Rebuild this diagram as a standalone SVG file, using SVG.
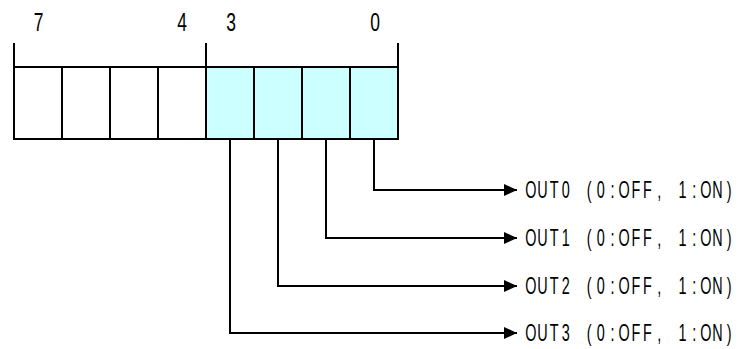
<svg xmlns="http://www.w3.org/2000/svg" width="740" height="349" viewBox="0 0 740 349">
<style>
.ln{stroke:#000;stroke-width:2;fill:none}
.cell{stroke:#000;stroke-width:2;fill:#fff}
.on{fill:#CCFFFF}
.num{font-family:"Liberation Sans","Noto Sans CJK JP",sans-serif;font-size:25px;fill:#000;text-anchor:middle}
.lbl{font-family:"Liberation Sans","Noto Sans CJK JP",sans-serif;font-size:24px;fill:#000;text-anchor:middle}
</style>
<defs>
<marker id="ah" markerUnits="userSpaceOnUse" markerWidth="14" markerHeight="13" refX="13" refY="6.5" orient="auto">
<path d="M0,0.5 L13,6.5 L0,12.5 Z" fill="#000"/>
</marker>
</defs>
<rect width="740" height="349" fill="#fff"/>
<g id="register">
<rect class="cell" x="14" y="67" width="48" height="72"/>
<rect class="cell" x="62" y="67" width="48" height="72"/>
<rect class="cell" x="110" y="67" width="48" height="72"/>
<rect class="cell" x="158" y="67" width="48" height="72"/>
<rect class="cell on" x="206" y="67" width="48" height="72"/>
<rect class="cell on" x="254" y="67" width="48" height="72"/>
<rect class="cell on" x="302" y="67" width="48" height="72"/>
<rect class="cell on" x="350" y="67" width="48" height="72"/>
<path class="ln" d="M14 43 V67 M206 43 V67 M398 43 V67"/>
<text class="num" transform="translate(38.5,31) scale(0.7,1)">7</text>
<text class="num" transform="translate(182,31) scale(0.7,1)">4</text>
<text class="num" transform="translate(231,31) scale(0.7,1)">3</text>
<text class="num" transform="translate(375,31) scale(0.7,1)">0</text>
</g>
<g id="connectors">
<path class="ln" d="M374 139 V190 H517" marker-end="url(#ah)"/>
<path class="ln" d="M326 139 V238 H517" marker-end="url(#ah)"/>
<path class="ln" d="M278 139 V286 H517" marker-end="url(#ah)"/>
<path class="ln" d="M230 139 V333 H517" marker-end="url(#ah)"/>
</g>
<g id="out0"><text class="lbl" transform="translate(525,198) scale(0.6,1)" x="9.72 29.17 48.61 68.06 87.5 106.94 126.39 145.83 165.28 184.72 204.17 223.61 243.06 262.5 281.94 301.39 320.83 340.28">OUT0 (0:OFF, 1:ON)</text></g>
<g id="out1"><text class="lbl" transform="translate(525,246) scale(0.6,1)" x="9.72 29.17 48.61 68.06 87.5 106.94 126.39 145.83 165.28 184.72 204.17 223.61 243.06 262.5 281.94 301.39 320.83 340.28">OUT1 (0:OFF, 1:ON)</text></g>
<g id="out2"><text class="lbl" transform="translate(525,294) scale(0.6,1)" x="9.72 29.17 48.61 68.06 87.5 106.94 126.39 145.83 165.28 184.72 204.17 223.61 243.06 262.5 281.94 301.39 320.83 340.28">OUT2 (0:OFF, 1:ON)</text></g>
<g id="out3"><text class="lbl" transform="translate(525,341) scale(0.6,1)" x="9.72 29.17 48.61 68.06 87.5 106.94 126.39 145.83 165.28 184.72 204.17 223.61 243.06 262.5 281.94 301.39 320.83 340.28">OUT3 (0:OFF, 1:ON)</text></g>
</svg>
